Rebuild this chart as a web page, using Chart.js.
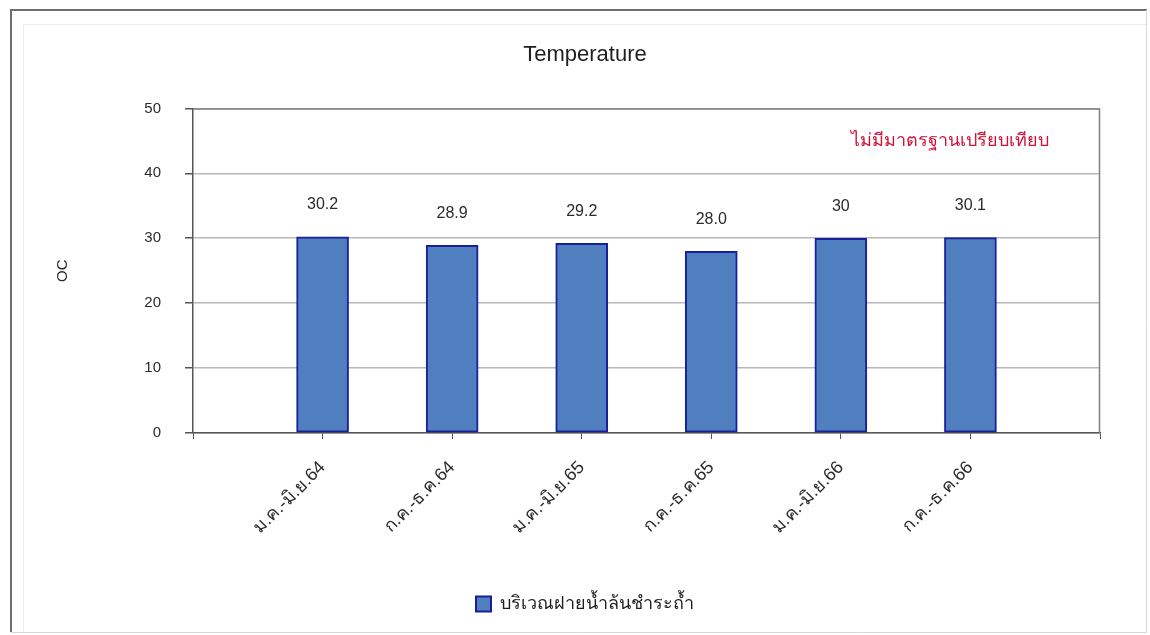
<!DOCTYPE html>
<html>
<head>
<meta charset="utf-8">
<script src="https://cdn.jsdelivr.net/npm/chart.js@4.4.1/dist/chart.umd.min.js"></script>
<style>
  html, body { margin: 0; padding: 0; background: #ffffff; }
  #wrap { width: 1150px; height: 635px; position: relative; }
</style>
</head>
<body>
<div id="wrap"><canvas id="c" width="1150" height="635"></canvas></div>
<script>
// ---- data ----
const categories = ['ม.ค.-มิ.ย.64', 'ก.ค.-ธ.ค.64', 'ม.ค.-มิ.ย.65', 'ก.ค.-ธ.ค.65', 'ม.ค.-มิ.ย.66', 'ก.ค.-ธ.ค.66'];
const temperatures = [30.2, 28.9, 29.2, 28.0, 30, 30.1];
const valueLabels = ['30.2', '28.9', '29.2', '28.0', '30', '30.1'];
const yTicks = [0, 10, 20, 30, 40, 50];
const seriesName = 'บริเวณฝายน้ำล้นชำระถ้ำ';
const chartTitle = 'Temperature';
const yTitle = 'OC';
const noteText = 'ไม่มีมาตรฐานเปรียบเทียบ';

// axis in the reference has an empty slot at each end
const labels = [''].concat(categories, ['']);
const data = [null].concat(temperatures, [null]);
const dataLabels = [''].concat(valueLabels, ['']);

const FONT = "'Liberation Sans', 'DejaVu Sans', 'Noto Sans', sans-serif";

const framePlugin = {
  id: 'frame',
  beforeDraw(chart) {
    const ctx = chart.ctx;
    ctx.save();
    ctx.fillStyle = '#ffffff';
    ctx.fillRect(0, 0, chart.width, chart.height);
    ctx.strokeStyle = '#6e6e6e';
    ctx.lineWidth = 2;
    ctx.beginPath();
    ctx.moveTo(11, 632); ctx.lineTo(11, 10); ctx.lineTo(1147, 10);
    ctx.stroke();
    ctx.strokeStyle = '#d8d8d8';
    ctx.lineWidth = 1;
    ctx.beginPath();
    ctx.moveTo(1146.5, 10); ctx.lineTo(1146.5, 632.5); ctx.lineTo(11, 632.5);
    ctx.stroke();
    ctx.strokeStyle = '#ececec';
    ctx.beginPath();
    ctx.moveTo(23.5, 632); ctx.lineTo(23.5, 24.5); ctx.lineTo(1146, 24.5);
    ctx.stroke();
    ctx.restore();
  },
  afterDatasetsDraw(chart) {
    const ctx = chart.ctx;
    const area = chart.chartArea;
    ctx.save();
    ctx.strokeStyle = '#808080';
    ctx.lineWidth = 1.5;
    ctx.beginPath();
    ctx.moveTo(area.left, area.top + 0.5);
    ctx.lineTo(area.right - 0.5, area.top + 0.5);
    ctx.lineTo(area.right - 0.5, area.bottom);
    ctx.stroke();
    const meta = chart.getDatasetMeta(0);
    ctx.fillStyle = '#2b2b2b';
    ctx.font = '16px ' + FONT;
    ctx.textAlign = 'center';
    ctx.textBaseline = 'middle';
    meta.data.forEach((bar, i) => {
      if (data[i] === null) return;
      ctx.fillText(dataLabels[i], bar.x, bar.y - 32);
    });
    const ys = chart.scales.y;
    const xs = chart.scales.x;
    ctx.fillStyle = '#d2143a';
    ctx.font = '18px ' + FONT;
    ctx.fillText(noteText, xs.getPixelForValue(6) - 20, ys.getPixelForValue(45));
    ctx.restore();
  }
};

new Chart(document.getElementById('c'), {
  type: 'bar',
  data: {
    labels: labels,
    datasets: [{
      label: seriesName,
      data: data,
      backgroundColor: '#4f7fbf',
      borderColor: '#1a1f9c',
      borderWidth: 2,
      barThickness: 52,
      borderSkipped: false
    }]
  },
  options: {
    responsive: false,
    animation: false,
    devicePixelRatio: 1,
    layout: { padding: { left: 40, right: 20, top: 10, bottom: 12 } },
    plugins: {
      title: {
        display: true,
        text: chartTitle,
        color: '#1e1e1e',
        font: { family: FONT, size: 22, weight: 'normal' },
        padding: { top: 32, bottom: 40 }
      },
      legend: {
        display: true,
        position: 'bottom',
        labels: {
          color: '#1e1e1e',
          font: { family: FONT, size: 18 },
          boxWidth: 15,
          boxHeight: 15,
          padding: 10
        }
      },
      tooltip: { enabled: false }
    },
    scales: {
      x: {
        offset: false,
        grid: {
          offset: false,
          drawOnChartArea: false,
          drawTicks: true,
          tickLength: 6,
          color: '#555555'
        },
        border: { display: true, color: '#555555', width: 1.5 },
        ticks: {
          color: '#2b2b2b',
          font: { family: FONT, size: 18 },
          minRotation: 45,
          maxRotation: 45,
          autoSkip: false,
          padding: 18
        },
        afterFit(scale) { scale.height = 152; }
      },
      y: {
        min: 0,
        max: 50,
        afterBuildTicks(scale) { scale.ticks = yTicks.map(v => ({ value: v })); },
        grid: {
          color: '#b8b8b8',
          lineWidth: 1.5,
          drawTicks: true,
          tickLength: 8,
          tickColor: '#555555'
        },
        border: { display: true, color: '#555555', width: 1.5 },
        ticks: {
          color: '#2b2b2b',
          font: { family: FONT, size: 15 },
          padding: 24
        },
        title: {
          display: true,
          text: yTitle,
          color: '#2b2b2b',
          font: { family: FONT, size: 15 },
          padding: { top: 14, bottom: 0 }
        },
        afterFit(scale) { scale.width = 153; }
      },
      yRight: {
        position: 'right',
        display: true,
        grid: { display: false },
        border: { display: false },
        ticks: { display: false },
        afterFit(scale) { scale.width = 30; }
      }
    }
  },
  plugins: [framePlugin]
});
</script>
</body>
</html>
